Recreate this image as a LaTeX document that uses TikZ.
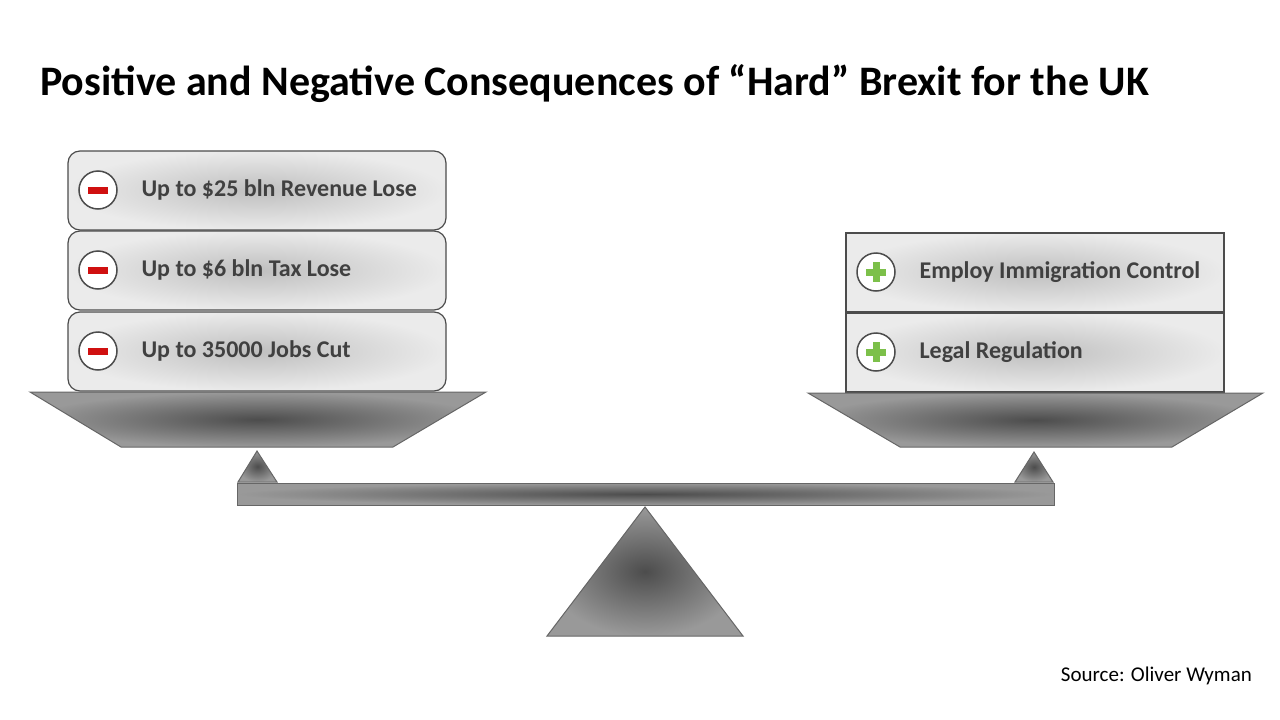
\documentclass[tikz,border=0pt]{standalone}
\usepackage{fontspec}
\setmainfont{Carlito}
\usetikzlibrary{positioning}
\definecolor{txtgray}{HTML}{404040}
\definecolor{minusred}{HTML}{D01010}
\definecolor{plusgreen}{HTML}{7CC04A}
\tikzset{
  itembox/.style={draw=black!70, line width=1.2pt, shading=radial, inner color=black!25, outer color=black!8},
  metal/.style={draw=black!60, line width=1pt, shading=radial, inner color=black!70, outer color=black!40},
  icon/.style={circle, draw=black!70, line width=1.5pt, fill=white, minimum size=38pt, inner sep=0pt},
  itemtext/.style={anchor=west, font=\fontsize{24}{28}\selectfont\bfseries, text=txtgray}
}
\begin{document}
\begin{tikzpicture}[x=1pt, y=-1pt]
  \useasboundingbox (0,0) rectangle (1280,720);
  \node[anchor=base west, inner sep=0pt, font=\fontsize{42}{48}\selectfont\bfseries] (title) at (40,95)
    {Positive and Negative Consequences of “Hard” Brexit for the UK};

  % left stack
  \foreach \y/\t [count=\i] in {151/Up to \$25 bln Revenue Lose, 231/Up to \$6 bln Tax Lose, 312/Up to 35000 Jobs Cut}{
    \draw[itembox, rounded corners=12pt] (68,\y) rectangle (446,\y+79);
    \node[icon] (minus\i) at (98,\y+39) {};
    \fill[minusred] (minus\i.center) ++(-10,-3.5) rectangle ++(20,7);
    \node[itemtext] (neg\i) at (138,\y+39) {\t};
  }
  % right stack
  \foreach \y/\t [count=\i] in {233/Employ Immigration Control, 313/Legal Regulation}{
    \draw[itembox] (846,\y) rectangle (1224,\y+79);
    \node[icon] (plus\i) at (876,\y+39) {};
    \fill[plusgreen] (plus\i.center) ++(-10,-3.5) rectangle ++(20,7);
    \fill[plusgreen] (plus\i.center) ++(-3.5,-10) rectangle ++(7,20);
    \node[itemtext] (pos\i) at (916,\y+39) {\t};
  }

  % pans, pivots, beam, fulcrum
  \draw[metal] (30,392) -- (486,392) -- (393,447) -- (121,447) -- cycle;
  \draw[metal] (808,393) -- (1263,393) -- (1172,447) -- (900,447) -- cycle;
  \draw[metal] (257,451) -- (277,482) -- (238,482) -- cycle;
  \draw[metal] (1034,452) -- (1053,482) -- (1015,482) -- cycle;
  \draw[metal] (237,483) rectangle (1054,505);
  \draw[metal] (645,507) -- (743,636) -- (547,636) -- cycle;

  \node[anchor=base east, inner sep=0pt, font=\fontsize{21}{24}\selectfont] (source) at (1252,681) {Source: Oliver Wyman};
\end{tikzpicture}
\end{document}
